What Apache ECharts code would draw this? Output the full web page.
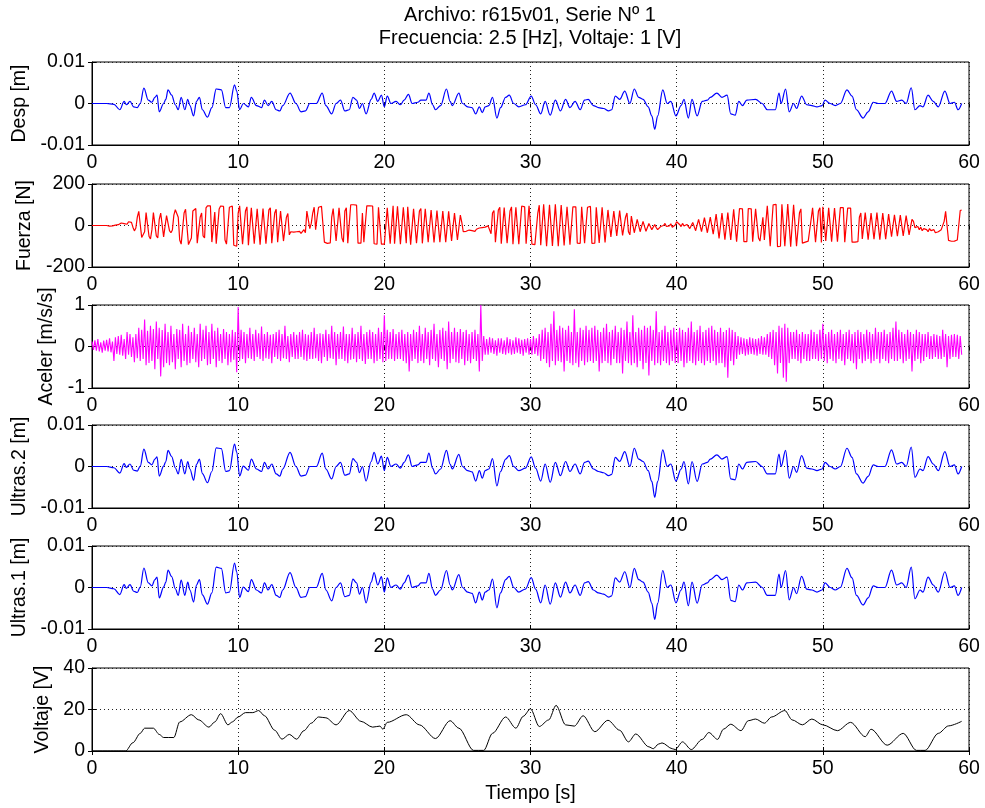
<!DOCTYPE html>
<html>
<head>
<meta charset="utf-8">
<script src="https://cdn.jsdelivr.net/npm/echarts@6/dist/echarts.min.js"></script>
<style>
html,body{margin:0;padding:0;background:#fff;}
#chart{width:985px;height:808px;}
</style>
</head>
<body>
<div id="chart"></div>
<script>
// Time axis ticks shared by every panel (seconds)
const tiempoTicks = [0, 10, 20, 30, 40, 50, 60];

// Displacement sensor, [t (s), value (m)]
const despPts = [[0,0],[1,0],[1.5,-0.0002],[1.9,-0.0015],[2.2,0.0005],[2.35,-0.0003],[2.6,0.0005],[2.85,-0.0008],[3.1,-0.001],[3.3,0],[3.55,0.0037],[3.85,0.0008],[4.1,0.0003],[4.3,0.0015],[4.45,0.002],[4.6,-0.002],[4.9,0],[5.05,0.001],[5.2,0.0033],[5.45,0.002],[5.7,-0.0003],[5.9,-0.0015],[6.1,0.0015],[6.35,-0.0015],[6.55,0.001],[6.7,-0.0005],[6.95,-0.003],[7.15,0.0005],[7.35,0.0015],[7.55,-0.0015],[7.9,-0.0033],[8.2,-0.001],[8.5,0.0035],[8.85,0.0033],[9.15,-0.001],[9.4,-0.001],[9.75,0.0045],[9.9,0.003],[10.1,-0.0015],[10.35,0],[10.7,-0.0008],[10.9,0.0015],[11.25,-0.0005],[11.6,-0.001],[11.8,0.0008],[12.05,-0.0005],[12.3,0.0005],[12.6,-0.0015],[12.85,-0.0018],[13.05,-0.0005],[13.55,0.0025],[13.95,0],[14.3,-0.002],[14.6,-0.0018],[14.9,0],[15.35,0],[15.75,0.0025],[16,-0.0005],[16.4,-0.0025],[16.7,0],[17,0.0008],[17.3,-0.0018],[17.6,-0.0015],[17.85,0.0015],[18.1,0.0008],[18.3,-0.0012],[18.5,0],[18.75,-0.0025],[19.1,0.001],[19.3,0.0025],[19.55,0.0005],[19.8,0.002],[20,-0.0008],[20.2,0.0018],[20.45,0],[20.8,0.0005],[21.1,-0.0003],[21.35,0.0008],[21.65,0.0022],[21.9,0],[22.3,0.0003],[22.5,0.0008],[22.85,0.0008],[23.05,0.0025],[23.3,-0.0003],[23.5,-0.0015],[23.85,-0.0005],[24.25,0.0035],[24.5,0.0005],[24.65,-0.0005],[25.1,0.0025],[25.35,0],[25.7,-0.0008],[26,-0.001],[26.25,-0.0025],[26.5,-0.0008],[26.7,-0.0022],[26.9,-0.0008],[27.15,-0.0005],[27.4,0.0015],[27.7,-0.0035],[27.95,-0.001],[28.3,0.0015],[28.55,0.002],[28.85,0],[29.2,-0.0008],[29.65,-0.0003],[30.05,0.0018],[30.35,-0.0003],[30.7,-0.0025],[31,0.0005],[31.35,-0.0028],[31.7,0.0008],[32.05,-0.0018],[32.4,0.001],[32.7,-0.001],[33.05,0.0005],[33.4,-0.0015],[33.7,0.0008],[33.95,0.001],[34.3,-0.0005],[34.65,-0.001],[35,-0.0012],[35.35,-0.0018],[35.55,-0.0015],[35.8,0.0018],[36.1,0.001],[36.45,0.003],[36.8,0],[37.1,0.0035],[37.4,0.0015],[37.7,0.001],[38.05,-0.0008],[38.3,-0.003],[38.5,-0.0062],[38.7,-0.003],[39.05,0.0033],[39.35,0],[39.6,0.0005],[39.95,-0.003],[40.3,-0.0005],[40.5,0.001],[40.8,-0.0035],[41.05,0.001],[41.4,-0.003],[41.75,0.0005],[42.1,0.0008],[42.3,0.0015],[42.75,0.0025],[43.1,0.0015],[43.45,0.002],[43.7,-0.0025],[44,-0.0028],[44.25,0.0005],[44.5,-0.0005],[44.8,0.0008],[45.4,0.001],[45.85,0],[46.2,-0.0015],[46.75,-0.0015],[47,0.0025],[47.15,0],[47.45,0.0035],[47.7,-0.002],[48,0],[48.2,-0.0012],[48.55,0.0018],[48.9,-0.0003],[49.25,-0.0005],[49.6,-0.0008],[49.95,-0.0005],[50.15,0.0008],[50.5,0],[50.85,-0.0005],[51.2,0],[51.65,0.0033],[52,0.0018],[52.3,-0.0015],[52.75,-0.0035],[53.1,-0.002],[53.45,0.0003],[53.8,0],[54.25,0],[54.7,0.003],[55.05,0.0005],[55.4,0.0008],[55.7,0],[56.05,0.0038],[56.3,-0.0015],[56.65,-0.0005],[56.85,-0.0008],[57.2,0.002],[57.55,0.0005],[57.9,-0.0008],[58.35,0.003],[58.7,0],[59,0.0003],[59.25,-0.0015],[59.5,0]];

// Force, one sample every 0.1 s starting at t = 0 (N)
const fuerzaStep = 0.1;
const fuerzaVals = [
0,0,0,0,0,0,0,0,0,0,
0,0,-3,-6,-2,-5,2,-3,4,6,
12,4,9,16,6,18,10,15,-8,-26,
-12,40,68,64,-58,-66,-30,62,64,-52,
-65,-20,62,65,-50,-60,30,60,58,-55,
-56,48,55,-25,-35,-22,50,76,78,40,
-70,-90,-88,60,78,80,-92,-95,-60,70,
78,82,-85,-86,40,60,-50,-60,85,95,
96,95,-80,-86,65,-88,-92,80,94,95,
92,-70,-90,-85,88,95,94,-95,-98,-100,
60,95,92,-90,-92,70,90,-95,-93,85,
92,-88,-90,80,88,-92,-85,82,90,-88,
-90,75,85,-85,-88,60,78,-80,-82,70,
72,-75,-70,40,58,-45,-30,-28,-32,-25,
-30,-35,-28,-38,-30,-20,-35,70,72,-15,
10,60,88,-20,40,88,90,92,88,-80,
-88,-86,-85,-84,40,82,80,-75,-80,85,
90,-60,-80,70,85,-85,-80,100,100,100,
100,98,-85,-86,-85,60,-80,-85,95,96,
95,96,94,-88,-90,-90,88,92,-90,-88,
-90,-92,85,92,-88,-90,95,-88,-90,92,
95,-90,-92,88,94,-85,90,95,-92,-90,
80,88,-85,-88,70,82,-86,-85,80,85,
-80,-86,75,80,-82,-85,72,78,-80,-82,
70,76,-80,-78,68,72,-75,-72,60,65,
-70,-68,50,15,-30,-35,-28,-32,-22,-30,
-25,-20,-28,-18,-22,-12,-20,-10,-15,-8,
-12,-2,5,-40,60,72,-80,-86,75,88,
-88,-90,86,88,-85,-88,70,90,-90,-92,
88,92,-90,-85,94,96,90,-88,-92,95,
98,-90,-92,-92,-90,60,98,-95,-100,102,
104,-100,-102,100,104,-98,-103,102,105,-100,
-102,98,100,-96,-98,90,96,-92,-95,90,
92,90,-85,-88,-86,90,92,-85,-88,88,
90,92,-86,-88,-85,88,90,-84,-86,88,
90,-82,-85,75,80,-55,-52,70,75,-50,
-55,72,74,-48,-50,40,60,-30,-45,45,
50,-35,-40,30,35,-30,-32,20,25,-28,
-25,10,18,-20,-22,5,-10,-20,-15,-5,
-10,0,10,-5,-12,-2,8,-8,-5,2,
18,20,5,-5,10,-2,-8,5,12,-15,
-20,15,22,-25,-28,30,32,-30,-34,38,
36,-35,-38,40,42,-42,-45,55,58,-62,
-66,60,64,-68,-70,62,65,-70,-65,78,
80,-78,-80,82,84,80,-78,-80,-78,82,
84,80,-78,-80,80,82,-60,-75,-75,40,
-70,-78,95,104,-100,-102,100,104,102,-102,
-104,-100,102,104,-100,-102,103,104,-102,-104,
100,104,-100,-102,60,80,-85,-80,-80,-78,
-75,-80,30,85,86,-80,-82,70,85,-82,
90,92,-75,-80,85,88,-78,-80,84,86,
-78,-82,86,88,86,-80,-82,84,86,84,
-80,-82,-80,-80,-78,40,60,-65,-70,62,
65,-68,-70,60,64,-66,-70,62,65,-68,
-70,60,62,-66,-68,55,58,-54,-55,52,
55,-52,-54,50,54,-50,-52,48,50,-45,
-48,30,20,-10,-15,-5,-20,-8,-25,-15,
-10,-20,-30,-15,-25,-30,-20,-35,-28,-30,
-22,-20,-25,20,68,72,-72,-75,-76,-74,
-75,-74,-70,-72,72,75
];

// Acceleration, one sample every 0.1 s starting at t = 0 (m/s/s)
const acelerStep = 0.1;
const acelerVals = [
0.12,-0.08,0.15,-0.1,0.18,-0.12,0.1,-0.15,0.14,-0.1,
0.16,-0.12,0.2,-0.14,0.12,-0.35,0.22,-0.18,0.25,-0.2,
0.28,-0.22,0.18,-0.3,0.35,-0.2,0.3,-0.25,0.22,-0.38,
0.3,-0.28,0.45,-0.35,0.4,-0.3,0.65,-0.45,0.38,-0.4,
0.5,-0.35,0.42,-0.55,0.6,-0.3,0.45,-0.72,0.4,-0.5,
0.55,-0.4,0.35,-0.45,0.5,-0.38,0.3,-0.55,0.42,-0.3,
0.4,-0.5,0.55,-0.35,0.3,-0.45,0.5,-0.4,0.35,-0.3,
0.45,-0.38,0.3,-0.5,0.55,-0.35,0.4,-0.3,0.5,-0.45,
0.35,-0.42,0.55,-0.3,0.38,-0.5,0.45,-0.35,0.3,-0.4,
0.42,-0.3,0.35,-0.45,0.3,-0.38,0.4,-0.32,0.35,-0.62,
0.95,-0.35,0.4,-0.3,0.35,-0.4,0.3,-0.28,0.45,-0.3,
0.3,-0.35,0.4,-0.25,0.32,-0.3,0.48,-0.35,0.3,-0.28,
0.35,-0.3,0.28,-0.4,0.3,-0.25,0.35,-0.3,0.4,-0.35,
0.3,-0.28,0.5,-0.3,0.25,-0.38,0.3,-0.25,0.35,-0.3,
0.28,-0.3,0.35,-0.25,0.4,-0.32,0.3,-0.35,0.28,-0.3,
0.35,-0.3,0.45,-0.28,0.3,-0.35,0.32,-0.4,0.3,-0.25,
0.4,-0.35,0.3,-0.28,0.5,-0.3,0.35,-0.45,0.3,-0.3,
0.35,-0.3,0.48,-0.35,0.3,-0.4,0.3,-0.32,0.45,-0.3,
0.3,-0.38,0.35,-0.3,0.5,-0.35,0.3,-0.42,0.35,-0.3,
0.4,-0.3,0.35,-0.4,0.3,-0.35,0.45,-0.3,0.35,-0.38,
0.75,-0.35,0.4,-0.3,0.35,-0.3,0.42,-0.35,0.3,-0.3,
0.35,-0.3,0.4,-0.35,0.3,-0.4,0.35,-0.6,0.3,-0.35,
0.4,-0.3,0.35,-0.4,0.5,-0.35,0.3,-0.4,0.45,-0.3,
0.35,-0.45,0.4,-0.3,0.55,-0.35,0.3,-0.5,0.4,-0.3,
0.45,-0.35,0.38,-0.55,0.6,-0.4,0.35,-0.3,0.45,-0.38,
0.35,-0.4,0.42,-0.3,0.35,-0.45,0.4,-0.35,0.3,-0.4,
0.35,-0.3,0.4,-0.35,0.3,-0.6,1.0,-0.35,0.25,-0.2,
0.18,-0.2,0.22,-0.15,0.2,-0.18,0.15,-0.22,0.2,-0.15,
0.2,-0.18,0.15,-0.2,0.22,-0.16,0.18,-0.2,0.15,-0.18,
0.22,-0.15,0.2,-0.18,0.16,-0.22,0.18,-0.15,0.2,-0.2,
0.18,-0.2,0.25,-0.18,0.2,-0.22,0.3,-0.35,0.4,-0.3,
0.45,-0.4,0.35,-0.5,0.55,-0.35,0.85,-0.45,0.4,-0.35,
0.5,-0.38,0.45,-0.6,0.4,-0.35,0.5,-0.4,0.35,-0.45,
0.9,-0.4,0.35,-0.5,0.45,-0.35,0.4,-0.45,0.5,-0.38,
0.4,-0.35,0.45,-0.4,0.5,-0.35,0.4,-0.6,0.35,-0.4,
0.45,-0.35,0.55,-0.4,0.35,-0.45,0.4,-0.3,0.5,-0.4,
0.35,-0.4,0.45,-0.65,0.4,-0.35,0.6,-0.4,0.35,-0.45,
0.75,-0.4,0.35,-0.5,0.45,-0.35,0.4,-0.55,0.5,-0.4,
0.45,-0.7,0.5,-0.35,0.4,-0.45,0.85,-0.4,0.35,-0.45,
0.4,-0.35,0.5,-0.4,0.35,-0.45,0.4,-0.35,0.45,-0.4,
0.35,-0.4,0.45,-0.35,0.4,-0.5,0.35,-0.4,0.45,-0.35,
0.6,-0.4,0.35,-0.45,0.4,-0.35,0.5,-0.4,0.35,-0.45,
0.4,-0.35,0.45,-0.4,0.5,-0.35,0.4,-0.45,0.35,-0.4,
0.45,-0.4,0.35,-0.5,0.4,-0.75,0.45,-0.35,0.4,-0.45,
0.35,-0.3,0.25,-0.2,0.22,-0.18,0.2,-0.22,0.18,-0.2,
0.22,-0.18,0.2,-0.2,0.18,-0.22,0.2,-0.18,0.25,-0.2,
0.22,-0.2,0.3,-0.25,0.35,-0.3,0.4,-0.45,0.35,-0.65,
0.5,-0.4,0.45,-0.75,0.55,-0.85,0.45,-0.4,0.35,-0.3,
0.35,-0.3,0.4,-0.35,0.3,-0.4,0.35,-0.3,0.3,-0.35,
0.3,-0.35,0.4,-0.3,0.35,-0.3,0.3,-0.35,0.4,-0.3,
0.55,-0.35,0.3,-0.4,0.35,-0.3,0.4,-0.35,0.3,-0.4,
0.35,-0.3,0.4,-0.35,0.3,-0.45,0.35,-0.3,0.4,-0.35,
0.3,-0.4,0.35,-0.55,0.4,-0.3,0.35,-0.4,0.3,-0.35,
0.4,-0.3,0.35,-0.4,0.3,-0.35,0.45,-0.3,0.35,-0.4,
0.35,-0.3,0.4,-0.35,0.3,-0.4,0.35,-0.3,0.45,-0.35,
0.6,-0.35,0.4,-0.3,0.35,-0.4,0.3,-0.35,0.4,-0.3,
0.35,-0.6,0.3,-0.35,0.4,-0.3,0.35,-0.4,0.3,-0.35,
0.3,-0.25,0.35,-0.3,0.25,-0.3,0.3,-0.25,0.28,-0.3,
0.25,-0.3,0.4,-0.25,0.3,-0.5,0.25,-0.3,0.28,-0.25,
0.3,-0.25,0.28,-0.3,0.25,-0.2
];

// Ultrasonic sensor 2, [t (s), value (m)]
const ultras2Pts = [[0,0],[1,0],[1.5,-0.0003],[1.9,-0.0016],[2.2,0.0007],[2.35,-0.0002],[2.6,0.0006],[2.85,-0.0009],[3.1,-0.0011],[3.3,0.0001],[3.55,0.0042],[3.85,0.001],[4.1,0.0004],[4.3,0.0018],[4.45,0.0023],[4.6,-0.0023],[4.9,0.0001],[5.05,0.0012],[5.2,0.0039],[5.45,0.0024],[5.7,-0.0003],[5.9,-0.0018],[6.1,0.0017],[6.35,-0.0018],[6.55,0.0012],[6.7,-0.0006],[6.95,-0.0033],[7.15,0.0005],[7.35,0.0018],[7.55,-0.0017],[7.9,-0.0039],[8.2,-0.0012],[8.5,0.0045],[8.85,0.0043],[9.15,-0.0012],[9.4,-0.001],[9.75,0.0054],[9.9,0.0035],[10.1,-0.0023],[10.35,0.0001],[10.7,-0.0009],[10.9,0.0018],[11.25,-0.0006],[11.6,-0.0012],[11.8,0.001],[12.05,-0.0006],[12.3,0.0006],[12.6,-0.0018],[12.85,-0.0023],[13.05,-0.0006],[13.55,0.0034],[13.95,0],[14.3,-0.0023],[14.6,-0.0021],[14.9,0],[15.35,0],[15.75,0.0032],[16,-0.0006],[16.4,-0.003],[16.7,0],[17,0.001],[17.3,-0.0021],[17.6,-0.0018],[17.85,0.0019],[18.1,0.001],[18.3,-0.0015],[18.5,0],[18.75,-0.0035],[19.1,0.0012],[19.3,0.0034],[19.55,0.0006],[19.8,0.0025],[20,-0.001],[20.2,0.0022],[20.45,0],[20.8,0.0006],[21.1,-0.0004],[21.35,0.001],[21.65,0.0028],[21.9,0],[22.3,0.0004],[22.5,0.001],[22.85,0.001],[23.05,0.0032],[23.3,-0.0004],[23.5,-0.0018],[23.85,-0.0006],[24.25,0.0039],[24.5,0.0006],[24.65,-0.0006],[25.1,0.0029],[25.35,0],[25.7,-0.001],[26,-0.0013],[26.25,-0.0035],[26.5,-0.001],[26.7,-0.0028],[26.9,-0.001],[27.15,-0.0006],[27.4,0.0019],[27.7,-0.0047],[27.95,-0.0012],[28.3,0.0018],[28.55,0.0026],[28.85,0],[29.2,-0.001],[29.65,-0.0004],[30.05,0.0023],[30.35,-0.0004],[30.7,-0.0035],[31,0.0006],[31.35,-0.0038],[31.7,0.001],[32.05,-0.0022],[32.4,0.0012],[32.7,-0.0012],[33.05,0.0006],[33.4,-0.0018],[33.7,0.001],[33.95,0.0013],[34.3,-0.0006],[34.65,-0.0012],[35,-0.0015],[35.35,-0.0022],[35.55,-0.0019],[35.8,0.0022],[36.1,0.0012],[36.45,0.0036],[36.8,0],[37.1,0.0044],[37.4,0.0018],[37.7,0.0012],[38.05,-0.001],[38.3,-0.0036],[38.5,-0.0074],[38.7,-0.0036],[39.05,0.004],[39.35,0],[39.6,0.0006],[39.95,-0.0035],[40.3,-0.0006],[40.5,0.0012],[40.8,-0.0042],[41.05,0.0012],[41.4,-0.0036],[41.75,0.0006],[42.1,0.001],[42.3,0.0018],[42.75,0.0028],[43.1,0.0018],[43.45,0.0024],[43.7,-0.003],[44,-0.0032],[44.25,0.0006],[44.5,-0.0006],[44.8,0.001],[45.4,0.0012],[45.85,0],[46.2,-0.0018],[46.75,-0.0018],[47,0.003],[47.15,0],[47.45,0.0039],[47.7,-0.0028],[48,0],[48.2,-0.0014],[48.55,0.0026],[48.9,-0.0004],[49.25,-0.0006],[49.6,-0.001],[49.95,-0.0006],[50.15,0.001],[50.5,0],[50.85,-0.0006],[51.2,0],[51.65,0.0044],[52,0.0022],[52.3,-0.0018],[52.75,-0.004],[53.1,-0.0024],[53.45,0.0004],[53.8,0],[54.25,0],[54.7,0.004],[55.05,0.0006],[55.4,0.001],[55.7,0],[56.05,0.0047],[56.3,-0.0026],[56.65,-0.0006],[56.85,-0.001],[57.2,0.0024],[57.55,0.0006],[57.9,-0.001],[58.35,0.0036],[58.7,0],[59,0.0004],[59.25,-0.0018],[59.5,0]];

// Ultrasonic sensor 1, [t (s), value (m)]
const ultras1Pts = [[0,0],[1,0],[1.5,-0.0003],[1.9,-0.0017],[2.2,0.0007],[2.35,-0.0002],[2.6,0.0007],[2.85,-0.0009],[3.1,-0.0012],[3.3,0.0001],[3.55,0.0047],[3.85,0.0011],[4.1,0.0004],[4.3,0.0019],[4.45,0.0025],[4.6,-0.0025],[4.9,0.0001],[5.05,0.0013],[5.2,0.0042],[5.45,0.0026],[5.7,-0.0003],[5.9,-0.0019],[6.1,0.0018],[6.35,-0.0019],[6.55,0.0013],[6.7,-0.0006],[6.95,-0.0035],[7.15,0.0006],[7.35,0.0019],[7.55,-0.0018],[7.9,-0.004],[8.2,-0.0013],[8.5,0.0049],[8.85,0.0046],[9.15,-0.0013],[9.4,-0.0011],[9.75,0.0059],[9.9,0.0038],[10.1,-0.0024],[10.35,0.0001],[10.7,-0.001],[10.9,0.0019],[11.25,-0.0006],[11.6,-0.0013],[11.8,0.0011],[12.05,-0.0006],[12.3,0.0007],[12.6,-0.0019],[12.85,-0.0024],[13.05,-0.0006],[13.55,0.0036],[13.95,0],[14.3,-0.0024],[14.6,-0.0022],[14.9,0],[15.35,0],[15.75,0.0034],[16,-0.0006],[16.4,-0.0032],[16.7,0],[17,0.0011],[17.3,-0.0022],[17.6,-0.0019],[17.85,0.002],[18.1,0.0011],[18.3,-0.0016],[18.5,0],[18.75,-0.0037],[19.1,0.0013],[19.3,0.0036],[19.55,0.0006],[19.8,0.0026],[20,-0.0011],[20.2,0.0023],[20.45,0],[20.8,0.0006],[21.1,-0.0004],[21.35,0.0011],[21.65,0.003],[21.9,0],[22.3,0.0004],[22.5,0.0011],[22.85,0.0011],[23.05,0.0034],[23.3,-0.0004],[23.5,-0.0019],[23.85,-0.0006],[24.25,0.0041],[24.5,0.0006],[24.65,-0.0006],[25.1,0.0031],[25.35,0],[25.7,-0.0011],[26,-0.0014],[26.25,-0.0037],[26.5,-0.0011],[26.7,-0.003],[26.9,-0.0011],[27.15,-0.0006],[27.4,0.002],[27.7,-0.0049],[27.95,-0.0013],[28.3,0.0019],[28.55,0.0027],[28.85,0],[29.2,-0.0011],[29.65,-0.0004],[30.05,0.0024],[30.35,-0.0004],[30.7,-0.0037],[31,0.0006],[31.35,-0.004],[31.7,0.0011],[32.05,-0.0023],[32.4,0.0013],[32.7,-0.0013],[33.05,0.0006],[33.4,-0.0019],[33.7,0.0011],[33.95,0.0014],[34.3,-0.0006],[34.65,-0.0013],[35,-0.0016],[35.35,-0.0023],[35.55,-0.002],[35.8,0.0023],[36.1,0.0013],[36.45,0.0038],[36.8,0],[37.1,0.0046],[37.4,0.0019],[37.7,0.0013],[38.05,-0.0011],[38.3,-0.0038],[38.5,-0.0077],[38.7,-0.0038],[39.05,0.0041],[39.35,0],[39.6,0.0006],[39.95,-0.0037],[40.3,-0.0006],[40.5,0.0013],[40.8,-0.0044],[41.05,0.0013],[41.4,-0.0038],[41.75,0.0006],[42.1,0.0011],[42.3,0.0019],[42.75,0.003],[43.1,0.0019],[43.45,0.0025],[43.7,-0.0031],[44,-0.0034],[44.25,0.0006],[44.5,-0.0006],[44.8,0.0011],[45.4,0.0013],[45.85,0],[46.2,-0.0019],[46.75,-0.0019],[47,0.0032],[47.15,0],[47.45,0.0041],[47.7,-0.003],[48,0],[48.2,-0.0015],[48.55,0.0027],[48.9,-0.0004],[49.25,-0.0006],[49.6,-0.0011],[49.95,-0.0006],[50.15,0.0011],[50.5,0],[50.85,-0.0006],[51.2,0],[51.65,0.0046],[52,0.0023],[52.3,-0.0019],[52.75,-0.0042],[53.1,-0.0025],[53.45,0.0004],[53.8,0],[54.25,0],[54.7,0.0042],[55.05,0.0006],[55.4,0.0011],[55.7,0],[56.05,0.0049],[56.3,-0.0027],[56.65,-0.0006],[56.85,-0.0011],[57.2,0.0025],[57.55,0.0006],[57.9,-0.0011],[58.35,0.0038],[58.7,0],[59,0.0004],[59.25,-0.0019],[59.5,0]];

// Drive voltage, [t (s), value (V)]
const voltajePts = [[0,0],[2.3,0],[2.8,4],[3.3,8.5],[3.6,11],[4.2,11],[4.6,8],[4.9,6.5],[5.6,6.5],[6,14],[6.8,17.5],[7.3,15],[8,11.5],[8.4,14],[8.8,18],[9.3,12.6],[9.6,14],[10,16.4],[10.5,18.5],[11,18.5],[11.4,19.5],[11.8,17],[12.5,10],[13,5.7],[13.5,8],[14,5.7],[14.5,9.8],[15,13.4],[15.5,16.4],[16,16],[16.7,12.6],[17.6,19.5],[18.4,14.3],[19.2,11.5],[19.7,12],[19.9,10.5],[20.2,13.8],[21.5,17.5],[22.4,12.6],[23.5,6],[24.5,14.6],[25.1,11],[26.1,0.3],[26.8,0.3],[27.4,8.5],[28.3,16.4],[29,11],[29.5,16.7],[30,20.3],[30.6,11.8],[31.25,15],[31.75,22],[32.4,12.6],[33,12],[33.6,17],[34.4,9.3],[35.3,14.8],[36.1,10],[36.7,4.4],[37.2,8.2],[38.1,2],[38.4,1.1],[38.75,3.3],[39,3.9],[39.7,1.1],[39.9,0.7],[40.4,4.4],[41,0.7],[41.75,5.6],[42.2,8.9],[42.8,5.6],[43.2,10.5],[43.7,12.9],[44.4,9.8],[44.9,14.6],[45.4,15.4],[46,13.4],[46.5,16.4],[47.4,19.5],[47.9,15],[48.6,12.6],[49.25,15.4],[50,12.6],[51,9.8],[51.9,13.8],[52.9,6.9],[53.3,10.5],[54.4,2.8],[55.5,8.5],[56.4,0.3],[57,0.3],[57.9,8.5],[58.6,12.1],[59.5,14.3]];

const FONT = "'Liberation Sans', Arial, Helvetica, sans-serif";
const TXT = 19.5;

const fuerzaPts = fuerzaVals.map((v, i) => [+(i * fuerzaStep).toFixed(2), v]);
const acelerPts = acelerVals.map((v, i) => [+(i * acelerStep).toFixed(2), v]);

const panels = [
  { label: 'Desp [m]',       color: '#0000ff', min: -0.01, max: 0.01, step: 0.01, gap: 62, smooth: 0.35, width: 1.2, data: despPts },
  { label: 'Fuerza [N]',     color: '#ff0000', min: -200,  max: 200,  step: 200,  gap: 56, smooth: false, width: 1.2, data: fuerzaPts },
  { label: 'Aceler [m/s/s]', color: '#ff00ff', min: -1,    max: 1,    step: 1,    gap: 23, smooth: false, width: 1.1, data: acelerPts },
  { label: 'Ultras.2 [m]',   color: '#0000ff', min: -0.01, max: 0.01, step: 0.01, gap: 62, smooth: 0.35, width: 1.2, data: ultras2Pts },
  { label: 'Ultras.1 [m]',   color: '#0000ff', min: -0.01, max: 0.01, step: 0.01, gap: 62, smooth: 0.35, width: 1.2, data: ultras1Pts },
  { label: 'Voltaje [V]',    color: '#000000', min: 0,     max: 40,   step: 20,   gap: 34, smooth: 0.3,  width: 1,   data: voltajePts }
];
const tops = [62, 184, 305, 425, 546, 668];
const LEFT = 92, WIDTH = 877, HEIGHT = 83;

const gridDots = { show: true, lineStyle: { color: '#222', width: 1, type: [1, 3] } };
const tickIn = { show: true, inside: true, length: 4, lineStyle: { color: '#000' } };

const option = {
  animation: false,
  backgroundColor: '#ffffff',
  textStyle: { fontFamily: FONT },
  graphic: [
    { type: 'text', x: 530, y: 15, style: { text: 'Archivo: r615v01, Serie Nº 1', fill: '#000', fontSize: 20, fontFamily: FONT, align: 'center', verticalAlign: 'middle', textAlign: 'center', textVerticalAlign: 'middle' } },
    { type: 'text', x: 530, y: 38, style: { text: 'Frecuencia: 2.5 [Hz], Voltaje: 1 [V]', fill: '#000', fontSize: 20, fontFamily: FONT, align: 'center', verticalAlign: 'middle', textAlign: 'center', textVerticalAlign: 'middle' } }
  ],
  grid: [], xAxis: [], yAxis: [], series: []
};

panels.forEach((p, i) => {
  option.grid.push({ left: LEFT, top: tops[i], width: WIDTH, height: HEIGHT, show: true,
    borderColor: '#000', borderWidth: 1, backgroundColor: 'transparent' });
  const last = i === panels.length - 1;
  // bottom time axis with labels
  option.xAxis.push({
    type: 'value', gridIndex: i, position: 'bottom',
    min: tiempoTicks[0], max: tiempoTicks[tiempoTicks.length - 1], interval: 10,
    axisLine: { show: true, onZero: false, lineStyle: { color: '#000', width: 1 } },
    axisTick: tickIn,
    axisLabel: { color: '#000', fontSize: TXT, fontFamily: FONT, margin: 8 },
    splitLine: gridDots,
    name: last ? 'Tiempo [s]' : '', nameLocation: 'middle', nameGap: 33,
    nameTextStyle: { color: '#000', fontSize: TXT, fontFamily: FONT }
  });
  // top edge ticks
  option.xAxis.push({
    type: 'value', gridIndex: i, position: 'top', min: 0, max: 60, interval: 10,
    axisLine: { show: false }, axisTick: tickIn, axisLabel: { show: false }, splitLine: { show: false }
  });
  option.yAxis.push({
    type: 'value', gridIndex: i, position: 'left', min: p.min, max: p.max, interval: p.step,
    axisLine: { show: true, onZero: false, lineStyle: { color: '#000', width: 1 } },
    axisTick: tickIn,
    axisLabel: { color: '#000', fontSize: TXT, fontFamily: FONT, margin: 7 },
    splitLine: gridDots,
    name: p.label, nameLocation: 'middle', nameGap: p.gap,
    nameTextStyle: { color: '#000', fontSize: TXT, fontFamily: FONT }
  });
  // right edge ticks
  option.yAxis.push({
    type: 'value', gridIndex: i, position: 'right', min: p.min, max: p.max, interval: p.step,
    axisLine: { show: false }, axisTick: tickIn, axisLabel: { show: false }, splitLine: { show: false }
  });
  option.series.push({
    type: 'line', xAxisIndex: 2 * i, yAxisIndex: 2 * i, data: p.data,
    showSymbol: false, symbol: 'none', smooth: p.smooth, smoothMonotone: 'x', sampling: null,
    lineStyle: { color: p.color, width: p.width }, itemStyle: { color: p.color },
    emphasis: { disabled: true }, silent: true, z: 3
  });
});

const chart = echarts.init(document.getElementById('chart'), null, { renderer: 'canvas' });
chart.setOption(option);
</script>
</body>
</html>
